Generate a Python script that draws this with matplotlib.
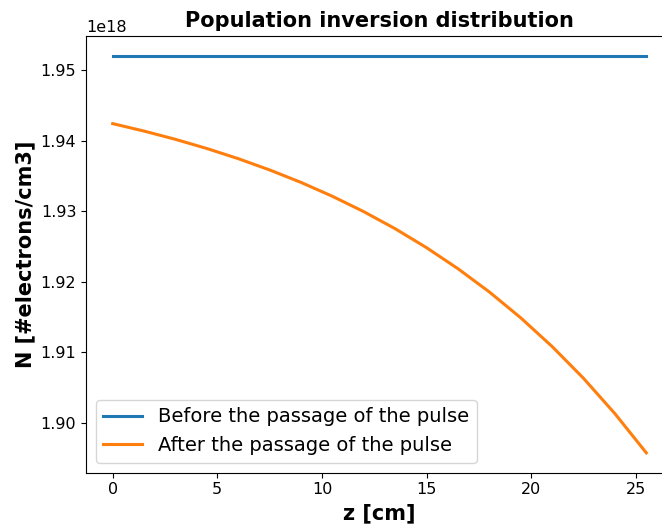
import numpy as np
import matplotlib
matplotlib.use("Agg")
import matplotlib.pyplot as plt

# Position along the gain medium [cm]
z_cm = [0.0, 1.5, 3.0, 4.5, 6.0, 7.5, 9.0, 10.5, 12.0, 13.5, 15.0, 16.5,
        18.0, 19.5, 21.0, 22.5, 24.0, 25.5]

# Population inversion before the pulse (uniform) [electrons/cm3]
n_before = [1.9521e18] * len(z_cm)

# Population inversion after the pulse has passed [electrons/cm3]
n_after = [1.94245e18, 1.94139e18, 1.94022e18, 1.93892e18, 1.93748e18,
           1.93588e18, 1.93411e18, 1.93214e18, 1.92996e18, 1.92754e18,
           1.92485e18, 1.92187e18, 1.91857e18, 1.91490e18, 1.91083e18,
           1.90632e18, 1.90131e18, 1.89575e18]

labels = ["Before the passage of the pulse", "After the passage of the pulse"]

fig = plt.figure(figsize=(6.62, 5.26), dpi=100)
ax = fig.add_axes([0.1299, 0.1013, 0.8867, 0.8308])

ax.plot(z_cm, n_before, color="#1f77b4", lw=2.2, label=labels[0])
ax.plot(z_cm, n_after, color="#ff7f0e", lw=2.2, label=labels[1])

ax.set_title("Population inversion distribution", fontsize=15, fontweight="bold")
ax.set_xlabel("z [cm]", fontsize=15, fontweight="bold")
ax.set_ylabel("N [#electrons/cm3]", fontsize=15, fontweight="bold")
ax.tick_params(labelsize=11.5)
ax.yaxis.get_offset_text().set_fontsize(11.5)
ax.legend(loc="lower left", fontsize=14)

fig.savefig("out.png", dpi=100)
